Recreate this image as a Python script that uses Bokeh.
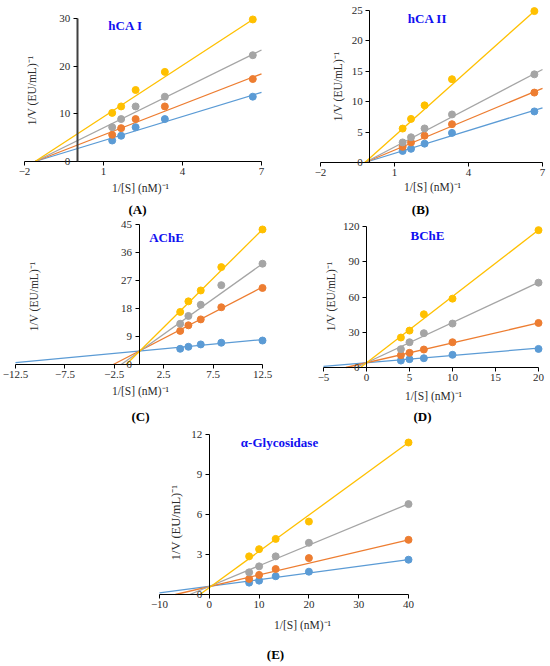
import math
from bokeh.plotting import figure
from bokeh.models import Label, FixedTicker, Range1d, Spacer
from bokeh.layouts import column, row
from bokeh.embed import file_html
from bokeh.resources import INLINE

# ---------------- data ----------------
SERIES_COLORS = ["#5B9BD5", "#ED7D31", "#A5A5A5", "#FFC000"]

# (A) hCA I
hca1_x = [1.33, 1.67, 2.22, 3.33, 6.67]
hca1_blue = [4.4, 5.4, 7.2, 8.9, 13.6]
hca1_orange = [5.6, 7.0, 8.9, 11.55, 17.3]
hca1_gray = [7.2, 8.9, 11.55, 13.6, 22.3]
hca1_yellow = [10.2, 11.55, 15.0, 18.8, 29.8]
hca1_fit_x0 = [-1.6, -1.6, -1.6, -1.6]
hca1_fit_y0 = [0, 0, 0, 0]
hca1_fit_x1 = [7, 7, 7, 6.73]
hca1_fit_y1 = [14.5, 18.4, 23.4, 30.0]
hca1_xticks = [-2, 1, 4, 7]
hca1_yticks = [0, 10, 20, 30]

# (B) hCA II
hca2_x = [1.33, 1.67, 2.22, 3.33, 6.67]
hca2_blue = [1.9, 2.25, 3.1, 4.87, 8.4]
hca2_orange = [2.57, 3.3, 4.4, 6.3, 11.5]
hca2_gray = [3.3, 4.15, 5.6, 7.9, 14.5]
hca2_yellow = [5.58, 7.17, 9.4, 13.7, 24.9]
hca2_fit_x0 = [-0.2, -0.2, -0.2, -0.2]
hca2_fit_y0 = [0, 0, 0, 0]
hca2_fit_x1 = [7, 7, 7, 6.7]
hca2_fit_y1 = [9.0, 12.2, 15.3, 25.0]
hca2_xticks = [-2, 1, 4, 7]
hca2_yticks = [0, 5, 10, 15, 20, 25]

# (C) AChE
ache_x = [4.17, 5.0, 6.25, 8.33, 12.5]
ache_blue = [5.05, 5.7, 6.45, 7.0, 7.7]
ache_orange = [10.8, 12.6, 14.5, 18.4, 24.6]
ache_gray = [13.1, 15.6, 19.2, 25.5, 32.4]
ache_yellow = [16.9, 20.3, 23.8, 31.3, 43.4]
ache_fit_x0 = [-12.5, -2.6, -1.8, -1.3]
ache_fit_y0 = [0.6, 0, 0, 0]
ache_fit_x1 = [12.5, 12.5, 12.5, 12.5]
ache_fit_y1 = [8.0, 24.9, 32.4, 43.4]
ache_xticks = [-12.5, -7.5, -2.5, 2.5, 7.5, 12.5]
ache_yticks = [0, 9, 18, 27, 36, 45]

# (D) BChE
bche_x = [4.0, 5.0, 6.67, 10.0, 20.0]
bche_blue = [5.9, 7.1, 7.9, 10.8, 15.8]
bche_orange = [10.5, 12.5, 15.3, 21.5, 37.9]
bche_gray = [15.6, 21.5, 29.2, 37.4, 72.2]
bche_yellow = [25.5, 31.4, 45.3, 58.6, 116.9]
bche_fit_x0 = [-5, -2.4, -1.2, -0.7]
bche_fit_y0 = [0.9, 0, 0, 0]
bche_fit_x1 = [20, 20, 20, 20]
bche_fit_y1 = [16.5, 37.9, 72.4, 117.0]
bche_xticks = [-5, 0, 5, 10, 15, 20]
bche_yticks = [0, 30, 60, 90, 120]

# (E) alpha-Glycosidase
glu_x = [8.0, 10.0, 13.33, 20.0, 40.0]
glu_blue = [0.89, 1.04, 1.37, 1.71, 2.61]
glu_orange = [1.17, 1.47, 1.91, 2.73, 4.1]
glu_gray = [1.66, 2.11, 2.86, 3.88, 6.78]
glu_yellow = [2.86, 3.4, 4.17, 5.47, 11.4]
glu_fit_x0 = [-10, -6.8, -3.9, -1.9]
glu_fit_y0 = [0.12, 0, 0, 0]
glu_fit_x1 = [40, 40, 40, 40]
glu_fit_y1 = [2.61, 4.1, 6.8, 11.4]
glu_xticks = [-10, 0, 10, 20, 30, 40]
glu_yticks = [0, 3, 6, 9, 12]

Y_TITLE = "1/V (EU/mL)\u207b\u00b9"
X_TITLE = "1/[S] (nM)\u207b\u00b9"

FONT = "Liberation Serif"
TEXT_COLOR = "#2b2b2b"
TICK_SIZE = "11px"
TITLE_SIZE = "11.5px"


def make_panel(cfg):
    figx, figy, figw, figh = cfg["fig"]
    fl, fr = cfg["frame_x"]      # page px of xmin / xmax
    y0p, ymp = cfg["frame_y"]    # page px of y=0 / y=ymax
    xmin, xmax = cfg["xlim"]
    ymax = cfg["ymax"]
    upx = (xmax - xmin) / (fr - fl)
    upy = ymax / (y0p - ymp)
    x_start = xmin - (fl - figx) * upx
    x_end = xmax + (figx + figw - fr) * upx
    y_start = -(figy + figh - y0p) * upy
    y_end = ymax + (ymp - figy) * upy

    p = figure(width=figw, height=figh,
               x_range=Range1d(x_start, x_end), y_range=Range1d(y_start, y_end),
               min_border=0, min_border_left=0, min_border_right=0,
               min_border_top=0, min_border_bottom=0,
               output_backend="svg", toolbar_location=None)
    p.outline_line_color = None
    p.grid.visible = False
    p.background_fill_color = "white"
    p.border_fill_color = "white"

    xa = p.xaxis[0]
    xa.fixed_location = 0
    xa.bounds = (xmin, xmax)
    xa.ticker = FixedTicker(ticks=cfg["xticks"])
    xa.minor_tick_line_color = None
    xa.major_tick_in = 0
    xa.major_tick_out = 4
    xa.major_label_standoff = 2
    xa.axis_line_color = "black"
    xa.major_tick_line_color = "black"
    xa.major_label_text_font = FONT
    xa.major_label_text_font_size = TICK_SIZE
    xa.major_label_text_color = TEXT_COLOR

    ya = p.yaxis[0]
    ya.fixed_location = 0
    ya.bounds = (0, ymax)
    ya.ticker = FixedTicker(ticks=cfg["yticks"])
    ya.minor_tick_line_color = None
    ya.major_tick_in = 0
    ya.major_tick_out = 4
    ya.major_label_standoff = 3
    ya.axis_line_color = cfg.get("yaxis_color", "black")
    ya.axis_line_width = cfg.get("yaxis_width", 1)
    ya.major_tick_line_color = "black"
    ya.major_label_text_font = FONT
    ya.major_label_text_font_size = TICK_SIZE
    ya.major_label_text_color = TEXT_COLOR

    xs = cfg["x"]
    for i, ys in enumerate(cfg["series"]):
        p.line([cfg["fx0"][i], cfg["fx1"][i]], [cfg["fy0"][i], cfg["fy1"][i]],
               line_color=SERIES_COLORS[i], line_width=1.3)
    for i, ys in enumerate(cfg["series"]):
        p.scatter(xs, ys, size=7, fill_color=SERIES_COLORS[i],
                  line_color=SERIES_COLORS[i])

    def dx(px):
        return xmin + (px - fl) * upx

    def dy(py):
        return (y0p - py) * upy

    tx, ty = cfg["ytitle"]
    p.add_layout(Label(x=dx(tx), y=dy(ty), text=Y_TITLE, angle=math.pi / 2,
                       text_align="center", text_baseline="middle",
                       text_font=FONT, text_font_size=cfg.get("ytitle_size", TITLE_SIZE),
                       text_color=TEXT_COLOR))
    tx, ty = cfg["xtitle"]
    p.add_layout(Label(x=dx(tx), y=dy(ty), text=X_TITLE,
                       text_align="center", text_baseline="middle",
                       text_font=FONT, text_font_size=TITLE_SIZE,
                       text_color=TEXT_COLOR))
    tx, ty = cfg["caption_pos"]
    p.add_layout(Label(x=dx(tx), y=dy(ty), text=cfg["caption"],
                       text_align="center", text_baseline="middle",
                       text_font=FONT, text_font_size="13px",
                       text_font_style="bold", text_color="black"))
    tx, ty = cfg["name_pos"]
    p.add_layout(Label(x=dx(tx), y=dy(ty), text=cfg["name"],
                       text_align="center", text_baseline="middle",
                       text_font=FONT, text_font_size="13px",
                       text_font_style="bold", text_color="#1010F0"))
    return p


pA = make_panel(dict(fig=(0, 0, 275, 217), frame_x=(24, 261), frame_y=(161, 18),
                     xlim=(-2, 7), ymax=30, xticks=hca1_xticks, yticks=hca1_yticks,
                     x=hca1_x, series=[hca1_blue, hca1_orange, hca1_gray, hca1_yellow],
                     fx0=hca1_fit_x0, fy0=hca1_fit_y0, fx1=hca1_fit_x1, fy1=hca1_fit_y1,
                     ytitle=(31, 90), xtitle=(140, 187), caption="(A)", caption_pos=(137, 209),
                     name="hCA I", name_pos=(125, 25), yaxis_color="#404040", yaxis_width=2))

pB = make_panel(dict(fig=(275, 0, 275, 217), frame_x=(320, 542), frame_y=(162, 10),
                     xlim=(-2, 7), ymax=25, xticks=hca2_xticks, yticks=hca2_yticks,
                     x=hca2_x, series=[hca2_blue, hca2_orange, hca2_gray, hca2_yellow],
                     fx0=hca2_fit_x0, fy0=hca2_fit_y0, fx1=hca2_fit_x1, fy1=hca2_fit_y1,
                     ytitle=(337, 86), xtitle=(432, 186), caption="(B)", caption_pos=(420, 209),
                     name="hCA II", name_pos=(427, 18)))

pC = make_panel(dict(fig=(0, 217, 275, 209), frame_x=(15, 262), frame_y=(364, 224),
                     xlim=(-12.5, 12.5), ymax=45, xticks=ache_xticks, yticks=ache_yticks,
                     x=ache_x, series=[ache_blue, ache_orange, ache_gray, ache_yellow],
                     fx0=ache_fit_x0, fy0=ache_fit_y0, fx1=ache_fit_x1, fy1=ache_fit_y1,
                     ytitle=(33, 296), xtitle=(140, 390), caption="(C)", caption_pos=(140, 416),
                     name="AChE", name_pos=(166, 237)))

pD = make_panel(dict(fig=(275, 217, 275, 209), frame_x=(323, 538), frame_y=(367, 226),
                     xlim=(-5, 20), ymax=120, xticks=bche_xticks, yticks=bche_yticks,
                     x=bche_x, series=[bche_blue, bche_orange, bche_gray, bche_yellow],
                     fx0=bche_fit_x0, fy0=bche_fit_y0, fx1=bche_fit_x1, fy1=bche_fit_y1,
                     ytitle=(330, 296), xtitle=(433, 395), caption="(D)", caption_pos=(422, 416),
                     name="BChE", name_pos=(427, 235)))

pE = make_panel(dict(fig=(120, 426, 310, 238), frame_x=(159, 408), frame_y=(594, 434),
                     xlim=(-10, 40), ymax=12, xticks=glu_xticks, yticks=glu_yticks,
                     x=glu_x, series=[glu_blue, glu_orange, glu_gray, glu_yellow],
                     fx0=glu_fit_x0, fy0=glu_fit_y0, fx1=glu_fit_x1, fy1=glu_fit_y1,
                     ytitle=(175, 522), ytitle_size="12.5px", xtitle=(302, 624),
                     caption="(E)", caption_pos=(275, 654),
                     name="\u03b1-Glycosidase", name_pos=(279, 442)))

layout = column(row(pA, pB), row(pC, pD), row(Spacer(width=120, height=238), pE))

open("out.html", "w").write(file_html(layout, INLINE))
